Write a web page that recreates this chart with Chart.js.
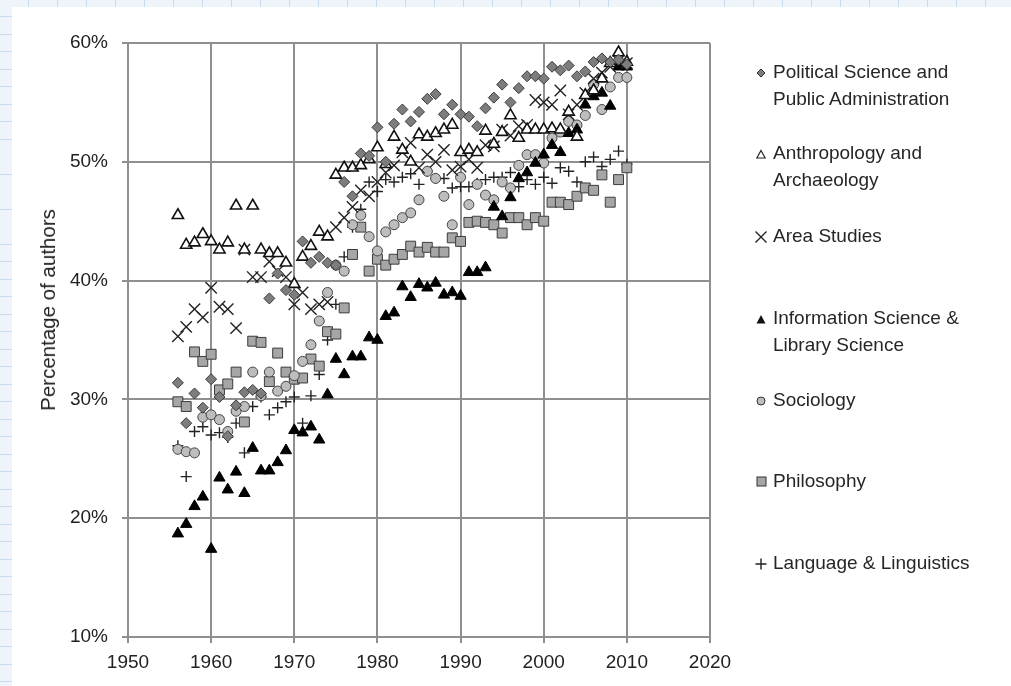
<!DOCTYPE html>
<html>
<head>
<meta charset="utf-8">
<script src="https://cdn.jsdelivr.net/npm/chart.js@4"></script>
<style>
  html, body { margin: 0; padding: 0; }
  body {
    width: 1011px; height: 686px; overflow: hidden; position: relative;
    background-color: #eef4fa;
    background-image:
      repeating-linear-gradient(to right, transparent 0 28px, #c9dbee 28px 29px),
      repeating-linear-gradient(to bottom, transparent 0 16.5px, #c9dbee 16.5px 17.5px);
  }
  #panel { position: absolute; left: 12px; top: 7px; right: 0; bottom: 0; background: #fff; }
  #chart { position: absolute; left: 0; top: 0; }
  #ytitle { position: absolute; left: 48px; top: 310px; transform: translate(-50%, -50%) rotate(-90deg);
            font-family: "Liberation Sans", Arial, sans-serif; font-size: 20.5px; color: #222; white-space: nowrap; }
  .leg { position: absolute; left: 752px; font-family: "Liberation Sans", Arial, sans-serif;
         font-size: 19px; line-height: 27px; color: #262626; }
  .leg svg { position: absolute; left: 0; }
  .leg span { display: block; margin-left: 21px; white-space: nowrap; }
</style>
</head>
<body>
<div id="panel"></div>
<canvas id="chart" width="1011" height="686"></canvas>
<div id="ytitle">Percentage of authors</div>
<div id="legend"></div>
<script>
// Share of authors by discipline, 1956-2010
const years = [1956,1957,1958,1959,1960,1961,1962,1963,1964,1965,
               1966,1967,1968,1969,1970,1971,1972,1973,1974,1975,
               1976,1977,1978,1979,1980,1981,1982,1983,1984,1985,
               1986,1987,1988,1989,1990,1991,1992,1993,1994,1995,
               1996,1997,1998,1999,2000,2001,2002,2003,2004,2005,
               2006,2007,2008,2009,2010];

const politicalSci = [31.4,28.0,30.5,29.3,31.7,30.2,26.9,29.5,30.6,30.8,
                      30.5,38.5,40.6,39.2,38.8,43.3,41.5,42.0,41.5,41.3,
                      48.3,47.1,50.7,50.5,52.9,50.0,53.2,54.4,53.4,54.2,
                      55.3,55.7,54.0,54.8,54.0,53.8,53.0,54.5,55.4,56.5,
                      55.0,56.2,57.2,57.2,57.0,58.0,57.7,58.1,57.2,57.6,
                      58.4,58.7,58.4,58.6,58.2];
const anthropology = [45.5,43.0,43.2,43.9,43.3,42.6,43.2,46.3,42.6,46.3,
                      42.6,42.3,42.3,41.5,39.7,42.0,42.9,44.1,43.7,48.9,
                      49.5,49.5,49.7,50.2,51.2,49.8,52.1,51.0,50.0,52.3,
                      52.1,52.4,52.7,53.1,50.8,51.0,50.8,52.6,51.5,52.5,
                      53.9,52.0,52.7,52.7,52.7,52.8,52.7,54.2,52.1,55.6,
                      56.0,57.0,58.3,59.2,58.4];
const areaStudies = [35.3,36.1,37.6,36.9,39.4,37.8,37.6,36.0,42.6,40.3,
                     40.3,41.6,40.8,40.3,38.0,39.0,37.6,38.0,38.2,44.5,
                     45.3,46.2,47.6,47.1,48.3,49.1,49.7,50.8,51.6,49.5,
                     50.6,50.0,51.0,49.3,49.6,50.2,49.5,51.4,51.3,52.7,
                     52.2,53.0,53.1,55.2,55.0,54.8,56.0,54.0,54.8,55.8,
                     57.0,57.5,58.0,58.5,58.3];
const infoScience = [18.7,19.5,21.0,21.8,17.4,23.4,22.4,23.9,22.1,25.9,
                     24.0,24.0,24.7,25.7,27.4,27.2,27.7,26.6,30.4,33.4,
                     32.1,33.6,33.6,35.2,35.0,37.0,37.3,39.5,38.6,39.7,
                     39.4,39.8,38.8,39.0,38.7,40.7,40.7,41.1,46.2,45.4,
                     47.0,48.6,49.1,49.9,50.6,51.4,50.8,52.4,52.7,54.8,
                     55.5,55.8,54.7,58.0,58.0];
const sociology = [25.8,25.6,25.5,28.5,28.7,28.3,27.3,29.0,29.4,32.3,
                   30.3,32.3,30.7,31.1,32.0,33.2,34.6,36.6,39.0,41.3,
                   40.8,44.7,45.5,43.7,42.5,44.1,44.7,45.3,45.7,46.8,
                   49.2,48.6,47.1,44.7,48.7,46.4,48.1,47.2,46.8,48.3,
                   47.8,49.7,50.6,50.6,49.9,52.0,52.5,53.4,53.1,53.9,
                   56.5,54.4,56.3,57.1,57.1];
const philosophy = [29.8,29.4,34.0,33.2,33.8,30.8,31.3,32.3,28.1,34.9,
                    34.8,31.5,33.9,32.3,31.7,31.8,33.4,32.8,35.7,35.5,
                    37.7,42.2,44.5,40.8,41.8,41.3,41.8,42.2,42.9,42.4,
                    42.8,42.4,42.4,43.6,43.3,44.9,45.0,44.9,44.7,44.0,
                    45.3,45.3,44.7,45.3,45.0,46.6,46.6,46.4,47.1,47.8,
                    47.6,48.9,46.6,48.5,49.5];
const linguistics = [26.1,23.5,27.3,27.7,27.0,27.2,26.8,28.0,25.5,29.4,
                     30.2,28.7,29.3,29.8,30.2,28.0,30.3,32.1,35.0,38.0,
                     42.0,44.5,46.0,48.3,47.5,48.5,48.3,48.7,49.0,48.1,
                     49.2,48.6,48.6,47.8,47.9,47.9,48.2,48.5,48.7,48.7,
                     49.1,47.9,48.5,48.1,48.7,48.2,49.5,49.2,48.3,50.0,
                     50.4,49.6,50.2,50.9,49.8];

const xTicks = [1950, 1960, 1970, 1980, 1990, 2000, 2010, 2020];
const yTicks = [10, 20, 30, 40, 50, 60];

const seriesNames = [
  ['Political Science and', 'Public Administration'],
  ['Anthropology and', 'Archaeology'],
  ['Area Studies'],
  ['Information Science &', 'Library Science'],
  ['Sociology'],
  ['Philosophy'],
  ['Language & Linguistics']
];
const seriesValues = [politicalSci, anthropology, areaStudies, infoScience, sociology, philosophy, linguistics];

const markerStyles = [
  { pointStyle: 'rectRot',  pointRadius: 5.5, backgroundColor: '#7d7d7d', borderColor: '#3a3a3a', pointBorderWidth: 1 },
  { pointStyle: 'triangle', pointRadius: 6.5, backgroundColor: '#ffffff', borderColor: '#111111', pointBorderWidth: 1.6 },
  { pointStyle: 'crossRot', pointRadius: 8,   backgroundColor: '#000000', borderColor: '#222222', pointBorderWidth: 1.4 },
  { pointStyle: 'triangle', pointRadius: 6.5, backgroundColor: '#000000', borderColor: '#000000', pointBorderWidth: 1 },
  { pointStyle: 'circle',   pointRadius: 5,   backgroundColor: '#bdbdbd', borderColor: '#444444', pointBorderWidth: 1 },
  { pointStyle: 'rect',     pointRadius: 7,   backgroundColor: '#a6a6a6', borderColor: '#3c3c3c', pointBorderWidth: 1 },
  { pointStyle: 'cross',    pointRadius: 5.5, backgroundColor: '#000000', borderColor: '#222222', pointBorderWidth: 1.4 }
];

const datasets = seriesValues.map((vals, i) => ({
  label: seriesNames[i].join(' '),
  data: years.map((y, k) => (vals[k] == null ? null : { x: y, y: vals[k] })).filter(Boolean),
  showLine: false,
  pointStyle: markerStyles[i].pointStyle,
  pointRadius: markerStyles[i].pointRadius,
  pointHoverRadius: markerStyles[i].pointRadius,
  pointBackgroundColor: markerStyles[i].backgroundColor,
  pointBorderColor: markerStyles[i].borderColor,
  pointBorderWidth: markerStyles[i].pointBorderWidth
}));

const tickFont = { family: '"Liberation Sans", Arial, sans-serif', size: 19 };
const gridColor = '#8f8f8f';

new Chart(document.getElementById('chart'), {
  type: 'scatter',
  data: { datasets },
  options: {
    responsive: false,
    animation: false,
    events: [],
    layout: { padding: { left: 33, top: 43, right: 301, bottom: 0 } },
    plugins: { legend: { display: false }, tooltip: { enabled: false } },
    scales: {
      x: {
        type: 'linear',
        min: xTicks[0], max: xTicks[xTicks.length - 1],
        afterBuildTicks: s => { s.ticks = xTicks.map(v => ({ value: v })); },
        afterFit: s => { s.height = 49; },
        ticks: { font: tickFont, color: '#222', padding: 8, maxRotation: 0, callback: v => String(v) },
        grid: { color: gridColor, lineWidth: 2, tickLength: 6 },
        border: { color: gridColor, width: 2 }
      },
      y: {
        type: 'linear',
        min: yTicks[0], max: yTicks[yTicks.length - 1],
        afterBuildTicks: s => { s.ticks = yTicks.map(v => ({ value: v })); },
        afterFit: s => { s.width = 95; },
        ticks: { font: tickFont, color: '#222', padding: 14, callback: v => v + '%' },
        grid: { color: gridColor, lineWidth: 2, tickLength: 6 },
        border: { color: gridColor, width: 2 }
      }
    }
  }
});

// Legend: marker glyph plus one or two text lines per series
const legendTops = [58, 139, 222, 304, 386, 467, 549];
const legendIcons = [
  '<polygon points="5,1 9,5 5,9 1,5" fill="#7d7d7d" stroke="#333" stroke-width="1"/>',
  '<polygon points="5,1.5 9.2,9 0.8,9" fill="#fff" stroke="#222" stroke-width="1.2"/>',
  '<path d="M0.5,0.5 L11.5,11.5 M11.5,0.5 L0.5,11.5" stroke="#222" stroke-width="1.4"/>',
  '<polygon points="5,1 9.5,9.5 0.5,9.5" fill="#111"/>',
  '<circle cx="5" cy="5" r="4" fill="#bdbdbd" stroke="#333" stroke-width="1"/>',
  '<rect x="1" y="1" width="9" height="9" fill="#a6a6a6" stroke="#333" stroke-width="1"/>',
  '<path d="M6,0.5 L6,11.5 M0.5,6 L11.5,6" stroke="#222" stroke-width="1.4"/>'
];
const iconSizes = [10, 10, 12, 10, 10, 11, 12];
const legendBox = document.getElementById('legend');
seriesNames.forEach((lines, i) => {
  const d = document.createElement('div');
  d.className = 'leg';
  d.style.top = legendTops[i] + 'px';
  const sz = iconSizes[i];
  const iconTop = 13.5 - sz / 2 + 1;
  d.innerHTML = '<svg width="' + sz + '" height="' + sz + '" style="top:' + iconTop + 'px;left:' + (9 - sz / 2) + 'px">' +
    legendIcons[i] + '</svg>' + lines.map(t => '<span>' + t.replace('&', '&amp;') + '</span>').join('');
  legendBox.appendChild(d);
});
</script>
</body>
</html>
